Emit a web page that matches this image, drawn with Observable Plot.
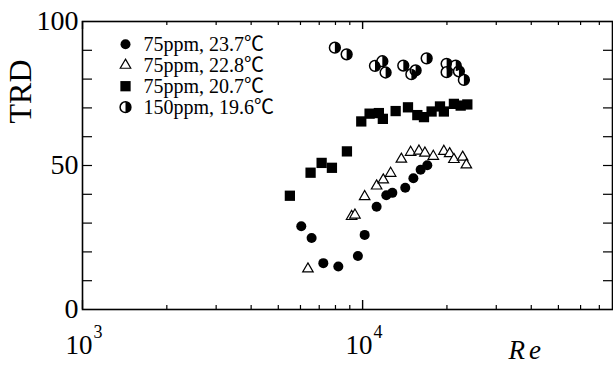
<!DOCTYPE html>
<html>
<head>
<meta charset="utf-8">
<script src="https://cdn.jsdelivr.net/npm/d3@7"></script>
<script src="https://cdn.jsdelivr.net/npm/@observablehq/plot@0.6"></script>
<style>
  html, body { margin: 0; padding: 0; background: #fff; }
  #chart svg { display: block; }
</style>
</head>
<body>
<div id="chart"></div>
<script>
// ---- data ----
const seriesNames = ["75ppm, 23.7℃", "75ppm, 22.8℃", "75ppm, 20.7℃", "150ppm, 19.6℃"];

const s1Re  = [6040, 6575, 7240, 8190, 9620, 10170, 11220, 12150, 12770, 14200, 15180, 16110, 17020];
const s1TRD = [28.9, 24.8, 16.1, 14.9, 18.6, 25.9, 35.7, 39.7, 40.5, 42.3, 45.6, 48.5, 50.1];

const s2Re  = [6380, 9135, 9390, 10170, 11220, 11850, 12590, 13750, 14840, 15890, 16690, 17880, 19500, 20450, 21180, 22760, 23460];
const s2TRD = [14.1, 32.3, 32.8, 39.2, 42.9, 45.0, 47.3, 52.2, 54.6, 55.0, 54.3, 53.2, 54.9, 54.1, 52.1, 52.9, 50.2];

const s3Re  = [5500, 6520, 7140, 7770, 8790, 9890, 10590, 11430, 11810, 13120, 14520, 15680, 16560, 17630, 18890, 19500, 21180, 22390, 23650];
const s3TRD = [39.5, 47.5, 50.9, 49.2, 54.9, 65.3, 68.0, 68.2, 66.2, 68.9, 70.2, 67.5, 66.8, 68.75, 70.5, 68.75, 71.4, 70.8, 71.2];

const s4Re  = [7960, 8770, 11070, 11760, 12080, 13970, 14930, 15460, 16930, 19950, 19950, 21500, 22070, 22990];
const s4TRD = [90.9, 88.6, 84.6, 86.2, 82.3, 84.7, 81.7, 83.0, 87.2, 85.3, 82.4, 84.7, 82.7, 79.7];

const xDomain = [1000, 78000];
const yDomain = [0, 100];
const yTickLabels = [0, 50, 100];
const yMinorTicks = [10, 20, 30, 40, 50, 60, 70, 80, 90];
const xMajorTicks = [1000, 10000];
const xMinorTicks = [2000, 3000, 4000, 5000, 6000, 7000, 8000, 9000, 20000, 30000, 40000, 50000, 60000, 70000];
const xTickExponents = ["3", "4"];

// ---- layout ----
const W = 613, H = 365;
const mL = 82, mR = 1, mT = 21, mB = 56;
const innerW = W - mL - mR, innerH = H - mT - mB;
const FONT = "'Liberation Serif', 'Times New Roman', 'Noto Sans CJK JP', serif";

const zip = (xs, ys) => xs.map((x, i) => ({Re: x, TRD: ys[i]}));
const d1 = zip(s1Re, s1TRD), d2 = zip(s2Re, s2TRD), d3s = zip(s3Re, s3TRD), d4 = zip(s4Re, s4TRD);

// right-half disc symbol
const halfRight = {
  draw(context, size) {
    const r = Math.sqrt(size / Math.PI);
    context.moveTo(0, -r);
    context.arc(0, 0, r, -Math.PI / 2, Math.PI / 2);
    context.closePath();
  }
};

const sty = {
  circle: {r: 5, fill: "black", stroke: "none"},
  tri: {r: 3.9, symbol: "triangle", fill: "white", stroke: "black", strokeWidth: 1.2},
  sq: {r: 5.8, symbol: "square", fill: "black", stroke: "none"},
  halfBg: {r: 5.4, fill: "white", stroke: "black", strokeWidth: 1.5},
  halfFg: {r: 5.4, symbol: halfRight, fill: "black", stroke: "none"}
};

const legendRowDy = i => 22.7 + 21 * i;
const legendMarks = [];
const legendStyles = [[sty.circle], [sty.tri], [sty.sq], [sty.halfBg, sty.halfFg]];
seriesNames.forEach((name, i) => {
  legendStyles[i].forEach(s => legendMarks.push(
    Plot.dot([name], {frameAnchor: "top-left", dx: 43, dy: legendRowDy(i), ...s})
  ));
  legendMarks.push(Plot.text([name], {
    frameAnchor: "top-left", dx: 61, dy: legendRowDy(i), text: d => d,
    textAnchor: "start", lineAnchor: "middle", fontSize: 20, fill: "black"
  }));
});

const plot = Plot.plot({
  width: W, height: H,
  marginLeft: mL, marginRight: mR, marginTop: mT, marginBottom: mB,
  x: {type: "log", domain: xDomain, axis: null},
  y: {domain: yDomain, axis: null},
  style: {fontFamily: FONT, background: "white", color: "black", overflow: "visible"},
  marks: [
    // ticks (inward)
    Plot.ruleX(xMinorTicks, {x: d => d, insetTop: innerH - 4, stroke: "black", strokeWidth: 1.2}),
    Plot.ruleX(xMinorTicks, {x: d => d, insetBottom: innerH - 4, stroke: "black", strokeWidth: 1.2}),
    Plot.ruleX(xMajorTicks, {x: d => d, insetTop: innerH - 9, stroke: "black", strokeWidth: 1.4}),
    Plot.ruleX(xMajorTicks, {x: d => d, insetBottom: innerH - 8, stroke: "black", strokeWidth: 1.4}),
    Plot.ruleY(yMinorTicks, {y: d => d, insetRight: innerW - 10, stroke: "black", strokeWidth: 1.2}),
    Plot.ruleY(yMinorTicks, {y: d => d, insetLeft: innerW - 9, stroke: "black", strokeWidth: 1.2}),
    Plot.frame({stroke: "black", strokeWidth: 1.6}),
    // y tick labels
    Plot.text(yTickLabels, {y: d => d, frameAnchor: "left", text: d => String(d), textAnchor: "end",
      lineAnchor: "middle", dx: -4, fontSize: 28, fill: "black"}),
    // x tick labels: base and exponent
    Plot.text(xMajorTicks, {x: d => d, frameAnchor: "bottom", text: () => "10", textAnchor: "end",
      lineAnchor: "bottom", dx: 10, dy: 44, fontSize: 27, fill: "black"}),
    Plot.text(xMajorTicks, {x: d => d, frameAnchor: "bottom", text: (d, i) => xTickExponents[i], textAnchor: "start",
      lineAnchor: "bottom", dx: 11, dy: 28, fontSize: 18, fill: "black"}),
    // axis titles
    Plot.text(["Re"], {frameAnchor: "bottom-left", text: d => d, dx: 508 - mL, dy: 49, textAnchor: "start",
      lineAnchor: "bottom", fontSize: 27, fontStyle: "italic", fill: "black"}),
    Plot.text(["TRD"], {frameAnchor: "top-left", text: d => d, dx: 20 - mL, dy: 70, rotate: -90,
      textAnchor: "middle", lineAnchor: "middle", fontSize: 32, fill: "black"}),
    // data
    Plot.dot(d1, {x: "Re", y: "TRD", ...sty.circle}),
    Plot.dot(d2, {x: "Re", y: "TRD", ...sty.tri}),
    Plot.dot(d3s, {x: "Re", y: "TRD", ...sty.sq}),
    Plot.dot(d4, {x: "Re", y: "TRD", ...sty.halfBg}),
    Plot.dot(d4, {x: "Re", y: "TRD", ...sty.halfFg}),
    ...legendMarks
  ]
});

plot.querySelectorAll("text").forEach(t => {
  if (t.textContent === "Re") t.setAttribute("letter-spacing", "4");
});
document.getElementById("chart").appendChild(plot);
</script>
</body>
</html>
